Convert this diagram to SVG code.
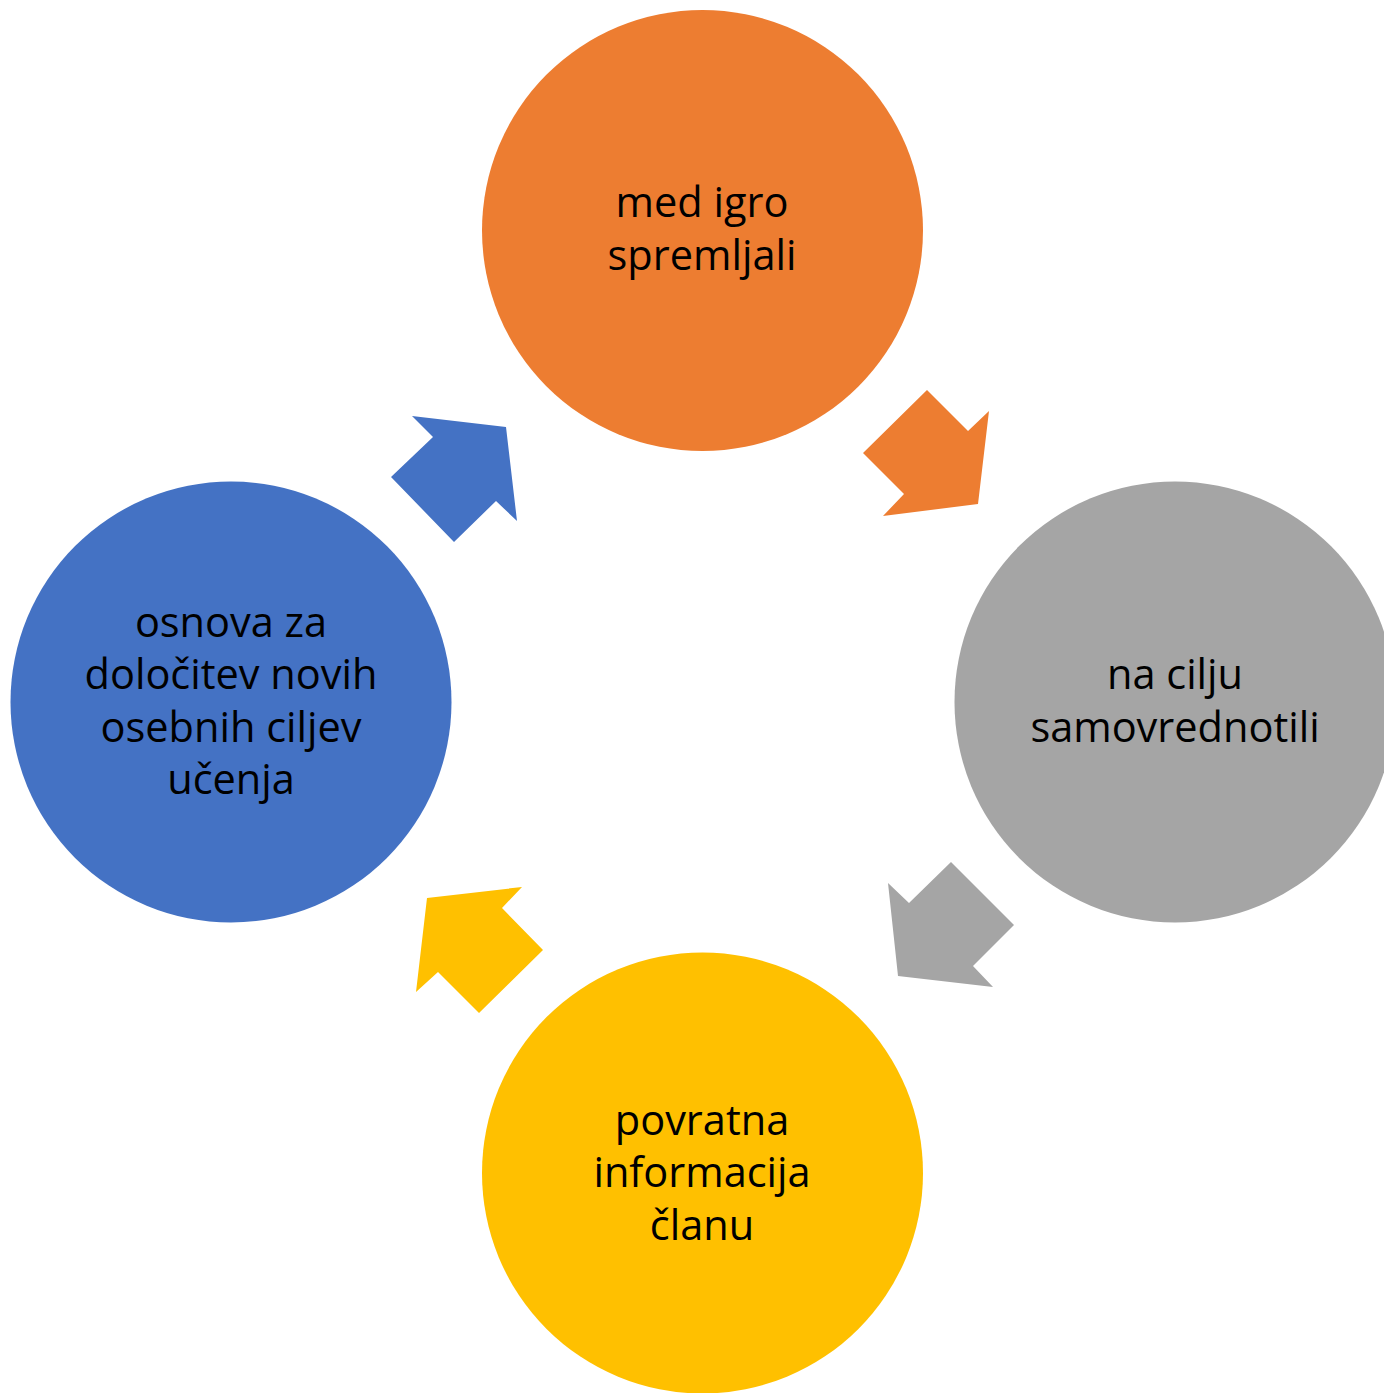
<svg xmlns="http://www.w3.org/2000/svg" width="1384" height="1393" viewBox="0 0 1384 1393">
<style>
text{font-family:"Open Sans","Noto Sans",sans-serif;font-size:41.5px;fill:#000;text-anchor:middle}
</style>
<rect width="1384" height="1393" fill="#fff"/>
<g id="connectors">
<polygon fill="#ED7D31" points="927,390 968,431 989,411 978,504 883,516 904,494 863,453"/>
<polygon fill="#A5A5A5" points="951,862 1014,925 973,966 993,987 898,976 888,883 909,903"/>
<polygon fill="#FFC000" points="522,887 502,908 543,950 479,1013 438,972 416,992 427,898"/>
<polygon fill="#4472C4" points="412,416 506,427 517,521 496,501 454,542 391,477 433,437"/>
</g>
<g id="node-top">
<circle cx="702.5" cy="230.5" r="220.5" fill="#ED7D31"/>
<text x="702" y="217">med igro</text>
<text x="702" y="270">spremljali</text>
</g>
<g id="node-right">
<circle cx="1175" cy="702" r="220.5" fill="#A5A5A5"/>
<text x="1175" y="689">na cilju</text>
<text x="1175" y="742">samovrednotili</text>
</g>
<g id="node-bottom">
<circle cx="702.5" cy="1173" r="220.5" fill="#FFC000"/>
<text x="702" y="1135">povratna</text>
<text x="702" y="1187">informacija</text>
<text x="702" y="1240">članu</text>
</g>
<g id="node-left">
<circle cx="231" cy="702" r="220.5" fill="#4472C4"/>
<text x="231" y="637">osnova za</text>
<text x="231" y="689">določitev novih</text>
<text x="231" y="742">osebnih ciljev</text>
<text x="231" y="794">učenja</text>
</g>
</svg>
